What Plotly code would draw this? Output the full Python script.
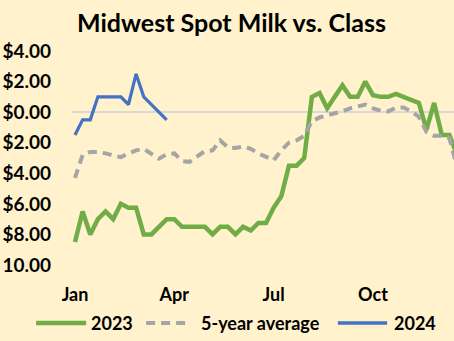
import plotly.graph_objects as go

# Weekly spread of Midwest spot milk vs. class price ($/cwt)
week_2023 = list(range(51))
spot_2023 = [-8.5, -6.5, -8.0, -7.0, -6.5, -7.0, -6.0, -6.25, -6.25, -8.0,
             -8.0, -7.5, -7.0, -7.0, -7.5, -7.5, -7.5, -7.5, -8.0, -7.5,
             -7.5, -8.0, -7.5, -7.75, -7.25, -7.25, -6.25, -5.5, -3.5, -3.5,
             -3.0, 1.0, 1.25, 0.25, 1.0, 1.75, 1.0, 1.0, 2.0, 1.1,
             1.0, 1.0, 1.2, 1.0, 0.85, 0.6, -1.15, 0.6, -1.5, -1.5,
             -2.8]
avg_5yr = [-4.3, -2.8, -2.6, -2.6, -2.7, -2.85, -2.95, -2.7, -2.5, -2.4,
           -2.75, -3.05, -2.75, -2.7, -3.2, -3.25, -2.9, -2.55, -2.5, -1.85,
           -2.3, -2.35, -2.25, -2.4, -2.7, -2.95, -3.15, -2.5, -2.0, -1.85,
           -1.55, -0.6, -0.35, -0.2, -0.1, 0.05, 0.25, 0.4, 0.5, 0.25,
           0.1, 0.05, 0.3, 0.3, 0.05, -0.3, -1.3, -1.55, -1.55, -1.7,
           -3.6]
week_2024 = list(range(13))
spot_2024 = [-1.5, -0.5, -0.5, 1.0, 1.0, 1.0, 1.0, 0.5, 2.5, 1.0, 0.5, 0.0, -0.5]

month_ticks = [0, 13, 26, 39]
month_labels = ["Jan", "Apr", "Jul", "Oct"]
price_ticks = [4, 2, 0, -2, -4, -6, -8, -10]
price_labels = ["$4.00", "$2.00", "$0.00", "$2.00", "$4.00", "$6.00", "$8.00", "10.00"]

GREEN = "#70AD47"
GREY = "#A5A5A5"
BLUE = "#4472C4"
BG = "#FFF2CC"
DASH = "9px,6px"
FONT = dict(family="Lato, 'Open Sans', sans-serif", color="black", weight="bold")

fig = go.Figure()
fig.add_trace(go.Scatter(x=week_2023, y=spot_2023, mode="lines", name="2023",
                         line=dict(color=GREEN, width=4.5)))
fig.add_trace(go.Scatter(x=week_2023, y=avg_5yr, mode="lines", name="5-year average",
                         line=dict(color=GREY, width=4, dash=DASH)))
fig.add_trace(go.Scatter(x=week_2024, y=spot_2024, mode="lines", name="2024",
                         line=dict(color=BLUE, width=3.2)))

# Legend drawn below the axis: sample line + label per series
legend_y = -0.271
legend_items = [
    (-0.094, 0.037, 0.045, GREEN, "solid", 4.5, "2023"),
    (0.194, 0.309, 0.332, GREY, DASH, 4, "5-year average"),
    (0.696, 0.825, 0.838, BLUE, "solid", 3.5, "2024"),
]
for x0, x1, xt, color, dash, width, label in legend_items:
    fig.add_shape(type="line", xref="paper", yref="paper", x0=x0, x1=x1,
                  y0=legend_y, y1=legend_y,
                  line=dict(color=color, width=width, dash=dash))
    fig.add_annotation(xref="paper", yref="paper", x=xt, y=legend_y,
                       text=label, showarrow=False, xanchor="left", yanchor="middle",
                       font=dict(size=18, **FONT))

fig.update_layout(
    width=454, height=341,
    margin=dict(l=72, r=0, t=51, b=76),
    paper_bgcolor=BG, plot_bgcolor=BG,
    showlegend=False,
    title=dict(text="Midwest Spot Milk vs. Class", x=0.4175, xref="paper",
               xanchor="center", y=1 - 23 / 341, yref="container", yanchor="middle",
               font=dict(size=25, **FONT)),
    xaxis=dict(range=[-0.39, 49.6], showgrid=False, zeroline=False, showline=False,
               tickmode="array", tickvals=month_ticks, ticktext=month_labels,
               ticks="", ticklabelstandoff=17, tickfont=dict(size=18, **FONT)),
    yaxis=dict(range=[-10, 4], showgrid=False, zeroline=True,
               zerolinecolor="#D9D9D9", zerolinewidth=1.5, showline=False,
               tickmode="array", tickvals=price_ticks, ticktext=price_labels,
               ticks="", ticklabelstandoff=20, tickfont=dict(size=19, **FONT)),
)

fig.write_html("out.html")
